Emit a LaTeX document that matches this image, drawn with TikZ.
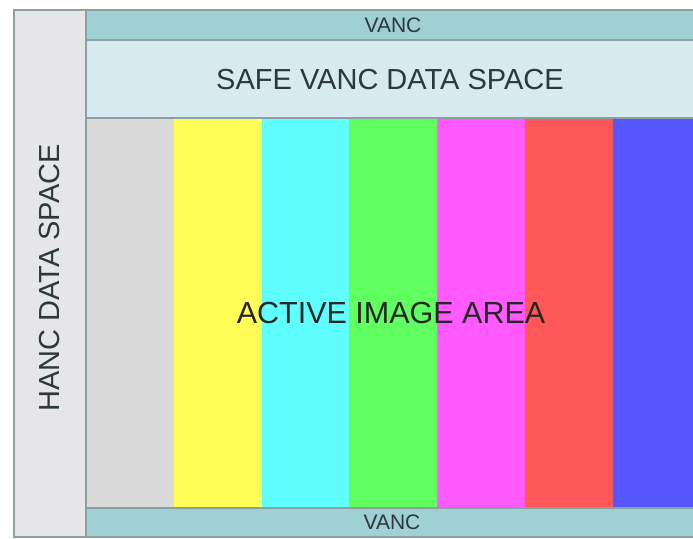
\documentclass[tikz,border=0pt]{standalone}
\usepackage{fontspec}
\setmainfont{Liberation Sans}
\usetikzlibrary{positioning}
\definecolor{frameline}{RGB}{140,160,162}
\definecolor{hancgray}{RGB}{230,230,232}
\definecolor{vancteal}{RGB}{158,208,212}
\definecolor{safeblue}{RGB}{214,234,240}
\definecolor{txtdark}{RGB}{44,56,60}
\definecolor{barGray}{RGB}{218,218,218}
\definecolor{barYellow}{RGB}{255,255,87}
\definecolor{barCyan}{RGB}{95,255,255}
\definecolor{barGreen}{RGB}{95,255,95}
\definecolor{barMagenta}{RGB}{255,90,255}
\definecolor{barRed}{RGB}{255,87,87}
\definecolor{barBlue}{RGB}{87,87,255}
\tikzset{
  zone/.style={draw=frameline, line width=2pt},
  bigtxt/.style={font=\fontsize{29}{31}\selectfont, text=txtdark, inner sep=0pt},
  smalltxt/.style={font=\fontsize{21}{23}\selectfont, text=txtdark, inner sep=0pt},
}

\begin{document}
\begin{tikzpicture}[x=1pt, y=-1pt]
    \useasboundingbox (0,0) rectangle (693,538);
    \fill[white] (0,0) rectangle (693,538);
    \clip (0,0) rectangle (693,538);
    % colour bars
    \foreach \c [count=\i from 0] in {barGray,barYellow,barCyan,barGreen,barMagenta,barRed,barBlue}
      \fill[\c] ({86+87.8*\i},118) rectangle ++(88.3,390);
    % bands round the active area
    \draw[zone, fill=hancgray] (14,10) rectangle (86,536.5);
    \draw[zone, fill=vancteal] (86,10) rectangle (720,40);
    \draw[zone, fill=safeblue] (86,40) rectangle (720,118);
    \draw[zone, fill=vancteal] (86,508) rectangle (720,536.5);
    \draw[zone] (86,118) -- (86,508);
    % labels
    \node[smalltxt] (vanctop) at (393,25) {VANC};
    \node[bigtxt] (safe) at (390,80) {SAFE VANC DATA SPACE};
    \node[bigtxt, font=\fontsize{30.5}{32}\selectfont, text=black!85] (active) at (391,313) {ACTIVE IMAGE AREA};
    \node[bigtxt, rotate=90] (hanc) at (50,278) {HANC DATA SPACE};
    \node[smalltxt] (vancbot) at (392,522) {VANC};
  \end{tikzpicture}
\end{document}
